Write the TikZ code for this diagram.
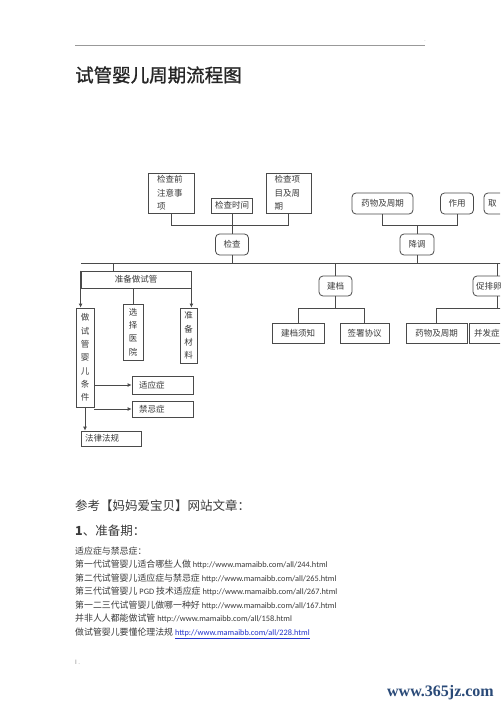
\documentclass[tikz,border=0pt]{standalone}
\usepackage{fontspec}
\setmainfont{Noto Sans CJK SC}
\newfontfamily\titlefont[FakeBold=1.2]{Noto Sans CJK SC}
\newfontfamily\lat{Carlito}
\newfontfamily\wmfont{Liberation Serif}
\usetikzlibrary{arrows.meta}
\definecolor{linec}{HTML}{4A4A4A}
\definecolor{txtc}{HTML}{3A3A3A}
\definecolor{wmblue}{HTML}{2A4A78}
\definecolor{linkblue}{HTML}{2233CC}
\newcommand\boxfont{\fontsize{8.5pt}{13.3pt}\selectfont}
\newcommand\lstfont{\fontsize{8.9pt}{11pt}\selectfont}
\newcommand\url[1]{{\lat\fontsize{8.3pt}{11pt}\selectfont #1}}
\tikzset{
  bx/.style={draw=linec, line width=0.8pt, inner sep=0pt, text=txtc, font=\boxfont},
  rbx/.style={bx, rounded corners=4pt},
  ln/.style={draw=linec, line width=0.8pt},
  arr/.style={ln, -{Latex[length=4pt,width=4pt]}},
  lst/.style={anchor=base west, inner sep=0pt, text=txtc, font=\lstfont},
}
\begin{document}
\begin{tikzpicture}[x=1pt,y=-1pt]
\useasboundingbox (0,0) rectangle (500,708);
\clip (0,0) rectangle (500,708);
\fill[white] (0,0) rectangle (500,708);

% header rule and title
\coordinate (hL) at (75,45);
\coordinate (hR) at (425,45);
\draw[gray!80, line width=0.8pt] (hL) -- (hR);
\node[anchor=base, inner sep=0pt, text=gray, font=\fontsize{5pt}{6pt}\selectfont] (hdot) at (425,42) {.};
\node[anchor=base west, inner sep=0pt, text=black!85, font=\titlefont\fontsize{18.5pt}{20pt}\selectfont] (title) at (75,82) {试管婴儿周期流程图};

% ---- top-left group
\node[bx, minimum width=46pt, minimum height=40pt, text width=28pt, align=left] (qzy) at (171,193) {检查前\\注意事\\项};
\node[bx, minimum width=41pt, minimum height=15pt] (sj) at (232,205.5) {检查时间};
\node[bx, minimum width=45pt, minimum height=40pt, text width=28pt, align=left] (xm) at (288.5,193) {检查项\\目及周\\期};
\node[rbx, minimum width=33pt, minimum height=21pt] (jc) at (232,244.5) {检查};

% ---- top-right group
\node[rbx, minimum width=61pt, minimum height=21pt] (yw) at (382.5,203.5) {药物及周期};
\node[rbx, minimum width=33pt, minimum height=21pt] (zy) at (457,203.5) {作用};
\node[rbx, minimum width=46pt, minimum height=21pt, text width=38pt, align=left] (qu) at (507,203.5) {取};
\node[rbx, minimum width=34pt, minimum height=21pt] (jd) at (417,244.5) {降调};

% main line
\coordinate (mL) at (81,263);
\coordinate (mR) at (510,263);

% ---- left lower group
\node[bx, minimum width=110pt, minimum height=17pt] (zb) at (136,279.5) {准备做试管};
\node[bx, minimum width=18pt, minimum height=99pt, align=center] (sk) at (85,357.5) {做\\试\\管\\婴\\儿\\条\\件};
\node[bx, minimum width=20pt, minimum height=56pt, align=center] (xy) at (133,332) {选\\择\\医\\院};
\node[bx, minimum width=17pt, minimum height=55pt, align=center] (cl) at (188.5,335.5) {准\\备\\材\\料};
\node[bx, minimum width=61pt, minimum height=18pt, text width=47pt, align=left] (syz) at (162.5,385) {适应症};
\node[bx, minimum width=61pt, minimum height=16pt, text width=47pt, align=left] (jjz) at (162.5,409) {禁忌症};
\node[bx, minimum width=60pt, minimum height=15pt, text width=52pt, align=left] (fl) at (111,438.5) {法律法规};

% ---- middle lower group
\node[rbx, minimum width=33pt, minimum height=20pt] (ja) at (335.5,286) {建档};
\node[bx, minimum width=52pt, minimum height=20pt] (xz) at (298,333) {建档须知};
\node[bx, minimum width=49pt, minimum height=20pt] (qs) at (364.5,333) {签署协议};

% ---- right lower group
\node[rbx, minimum width=48pt, minimum height=20pt, text width=42pt, align=left] (cp) at (497,286) {促排卵};
\node[bx, minimum width=61pt, minimum height=20pt] (yw2) at (436.5,333) {药物及周期};
\node[bx, minimum width=61pt, minimum height=20pt, text width=51pt, align=left] (bf) at (499.5,333) {并发症};
\coordinate (r308) at (510,308);

% ---- connectors
\draw[ln] (qzy.south) -- (qzy.south |- 0,225) -| (xm.south);
\draw[ln] (sj.south) -- (jc.north);
\draw[ln] (jc.south) -- (jc.south |- mL);
\draw[ln] (mL) -- (mR);
\draw[ln] (yw.south) -- (yw.south |- 0,225) -| (zy.south);
\draw[ln] (jd.north) -- (jd.north |- 0,225);
\draw[ln] (jd.south) -- (jd.south |- mL);

\draw[ln] (zb.north -| 113,0) -- ++(0,-8);
\draw[arr] (zb.north west) -- (zb.north west |- sk.north);
\draw[arr] (zb.north east) -- (zb.north east |- cl.north);
\draw[ln] (xy.north |- zb.south) -- (xy.north);
\draw[arr] (sk.east |- syz.west) -- (syz.west);
\draw[arr] (sk.south east |- jjz.west) -- (jjz.west);
\draw[arr] (sk.south) -- (sk.south |- fl.north);

\draw[ln] (ja.north |- mL) -- (ja.north);
\draw[ln] (ja.south) -- (ja.south |- 0,308);
\draw[ln] (xz.north) -- (xz.north |- 0,308) -| (qs.north);

\draw[ln] (cp.north |- mL) -- (cp.north);
\draw[ln] (cp.south) -- (cp.south |- r308);
\draw[ln] (yw2.north) -- (yw2.north |- r308) -- (r308);

% ---- reference text
\node[anchor=base west, inner sep=0pt, text=txtc, font=\fontsize{12.5pt}{14pt}\selectfont] (ref) at (75,510.8) {参考【妈妈爱宝贝】网站文章：};
\node[anchor=base west, inner sep=0pt, text=txtc, font=\fontsize{12.5pt}{14pt}\selectfont] (p1) at (75,535.8) {\textbf{1}、准备期：};
\node[lst] (l0) at (75,554.4) {适应症与禁忌症：};
\node[lst] (l1) at (75,567.9) {第一代试管婴儿适合哪些人做 \url{http://www.mamaibb.com/all/244.html}};
\node[lst] (l2) at (75,581.4) {第二代试管婴儿适应症与禁忌症 \url{http://www.mamaibb.com/all/265.html}};
\node[lst] (l3) at (75,594.9) {第三代试管婴儿 \url{PGD} 技术适应症 \url{http://www.mamaibb.com/all/267.html}};
\node[lst] (l4) at (75,608.4) {第一二三代试管婴儿做哪一种好 \url{http://www.mamaibb.com/all/167.html}};
\node[lst] (l5) at (75,621.9) {并非人人都能做试管 \url{http://www.mamaibb.com/all/158.html}};
\node[lst] (l6) at (75,635.4) {做试管婴儿要懂伦理法规 \url{\color{linkblue}\underline{http://www.mamaibb.com/all/228.html}}};

% footer
\node[anchor=base west, inner sep=0pt, text=gray, font=\fontsize{6pt}{7pt}\selectfont] (foot) at (75,664) {I .};
\node[anchor=base east, inner sep=0pt, text=wmblue, font=\wmfont\bfseries\fontsize{16pt}{18pt}\selectfont] (wm) at (494,696) {www.365jz.com};
\end{tikzpicture}
\end{document}
